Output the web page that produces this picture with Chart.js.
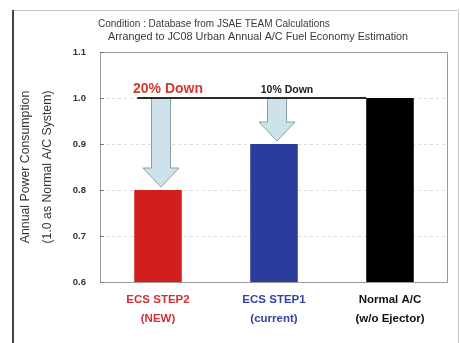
<!DOCTYPE html>
<html>
<head>
<meta charset="utf-8">
<script src="https://cdn.jsdelivr.net/npm/chart.js@4"></script>
<style>
  html, body { margin: 0; padding: 0; background: #fff; }
  #wrap { width: 460px; height: 343px; position: relative; }
</style>
</head>
<body>
<div id="wrap"><canvas id="c" width="460" height="343"></canvas></div>
<script>
// Annual A/C power consumption, normalised to a conventional system
const categories = [
  ['ECS STEP2', '(NEW)'],
  ['ECS STEP1', '(current)'],
  ['Normal A/C', '(w/o Ejector)']
];
const consumption = [0.8, 0.9, 1.0];
const barColors = ['#d21e1e', '#2c3c9c', '#000000'];
const labelColors = ['#d0303a', '#3444a4', '#111111'];
const yRange = { min: 0.6, max: 1.1, step: 0.1 };
const titleLines = [
  'Condition : Database from JSAE TEAM Calculations',
  'Arranged to JC08 Urban Annual A/C Fuel Economy Estimation'
];
const yTitleLines = ['Annual Power Consumption', '(1.0 as Normal A/C System)'];
const baselineValue = 1.0;

const FONT = '"Liberation Sans", Arial, sans-serif';

// Frame, captions, reference line and the "Down" arrows
const decorations = {
  id: 'decorations',
  beforeDraw(chart) {
    const { ctx, chartArea: a } = chart;
    ctx.save();
    // outer frame
    ctx.strokeStyle = '#c8c8c8';
    ctx.lineWidth = 1;
    ctx.beginPath();
    ctx.moveTo(13, 10.5); ctx.lineTo(458.5, 10.5); ctx.lineTo(458.5, 343);
    ctx.stroke();
    ctx.strokeStyle = '#444';
    ctx.lineWidth = 2;
    ctx.beginPath();
    ctx.moveTo(13, 10); ctx.lineTo(13, 343);
    ctx.stroke();

    // header text
    ctx.fillStyle = '#3a3a3a';
    ctx.textBaseline = 'middle';
    ctx.textAlign = 'left';
    ctx.font = '10px ' + FONT;
    ctx.fillText(titleLines[0], 98, 24);
    ctx.font = '10.8px ' + FONT;
    ctx.fillText(titleLines[1], 108, 37);

    // y axis title
    ctx.font = '12.3px ' + FONT;
    ctx.fillStyle = '#333';
    ctx.textAlign = 'center';
    const cy = (a.top + a.bottom) / 2;
    [26, 48].forEach((x, i) => {
      ctx.save();
      ctx.translate(x, cy);
      ctx.rotate(-Math.PI / 2);
      ctx.fillText(yTitleLines[i], 0, 0);
      ctx.restore();
    });
    ctx.restore();
  },
  afterDatasetsDraw(chart) {
    const { ctx, chartArea: a, scales: { y } } = chart;
    const bars = chart.getDatasetMeta(0).data;
    const yBase = y.getPixelForValue(baselineValue);
    ctx.save();

    // plot box
    ctx.strokeStyle = '#9a9a9a';
    ctx.lineWidth = 1;
    ctx.strokeRect(a.left + 0.5, a.top + 0.5, a.right - a.left - 1, a.bottom - a.top);
    // inward tick marks on the value axis
    ctx.strokeStyle = '#777';
    y.ticks.forEach((t) => {
      const py = Math.round(y.getPixelForValue(t.value)) + 0.5;
      ctx.beginPath();
      ctx.moveTo(a.left, py);
      ctx.lineTo(a.left + 4, py);
      ctx.stroke();
    });

    // arrows from the reference level down to each reduced bar
    consumption.forEach((v, i) => {
      if (v >= baselineValue) return;
      const b = bars[i];
      const cx = b.x + 3;
      const tip = y.getPixelForValue(v) - 3;
      const shaftHalf = 9.5, headHalf = 18, headH = 19;
      ctx.beginPath();
      ctx.moveTo(cx - shaftHalf, yBase);
      ctx.lineTo(cx + shaftHalf, yBase);
      ctx.lineTo(cx + shaftHalf, tip - headH);
      ctx.lineTo(cx + headHalf, tip - headH);
      ctx.lineTo(cx, tip);
      ctx.lineTo(cx - headHalf, tip - headH);
      ctx.lineTo(cx - shaftHalf, tip - headH);
      ctx.closePath();
      ctx.fillStyle = '#cde2ea';
      ctx.fill();
      ctx.strokeStyle = '#8c9ea6';
      ctx.lineWidth = 1;
      ctx.stroke();
    });

    // reference line at 1.0
    const last = bars[bars.length - 1];
    ctx.strokeStyle = '#2a2a2a';
    ctx.lineWidth = 2;
    ctx.beginPath();
    ctx.moveTo(bars[0].x - bars[0].width / 2 + 3, yBase);
    ctx.lineTo(last.x - last.width / 2, yBase);
    ctx.stroke();

    // reduction labels
    ctx.textBaseline = 'middle';
    ctx.textAlign = 'center';
    consumption.forEach((v, i) => {
      if (v >= baselineValue) return;
      const pct = Math.round((baselineValue - v) * 100);
      const txt = pct + '% Down';
      if (i === 0) {
        ctx.font = 'bold 14px ' + FONT;
        ctx.fillStyle = '#d43a32';
        ctx.fillText(txt, bars[i].x + 10, yBase - 9);
      } else {
        ctx.font = 'bold 10.5px ' + FONT;
        ctx.fillStyle = '#222';
        ctx.fillText(txt, bars[i].x + 13, yBase - 8);
      }
    });
    ctx.restore();
  }
};

new Chart(document.getElementById('c'), {
  type: 'bar',
  data: {
    labels: categories,
    datasets: [{
      data: consumption,
      backgroundColor: barColors,
      borderWidth: 0,
      categoryPercentage: 1.0,
      barPercentage: 0.41
    }]
  },
  options: {
    responsive: false,
    animation: false,
    devicePixelRatio: 1,
    layout: { padding: { top: 52, right: 12, bottom: 6, left: 0 } },
    plugins: { legend: { display: false }, tooltip: { enabled: false } },
    scales: {
      x: {
        grid: { display: false, drawTicks: false },
        border: { display: false },
        ticks: {
          padding: 9,
          color: (c) => labelColors[c.index],
          font: { family: FONT, size: 11.5, weight: 'bold', lineHeight: 1.6 }
        },
        afterFit(s) { s.height = 55; }
      },
      y: {
        min: yRange.min,
        max: yRange.max,
        ticks: {
          stepSize: yRange.step,
          padding: 14,
          color: '#333',
          font: { family: FONT, size: 9.5, weight: 'bold' },
          callback: (v) => Number(v).toFixed(1)
        },
        grid: {
          color: (c) => (c.tick.value > yRange.min + 0.01 && c.tick.value < yRange.max - 0.01) ? '#dcdcdc' : 'rgba(0,0,0,0)',
          drawTicks: false
        },
        border: { display: false, dash: [3, 3] },
        afterFit(s) { s.width = 100; }
      }
    }
  },
  plugins: [decorations]
});
</script>
</body>
</html>
